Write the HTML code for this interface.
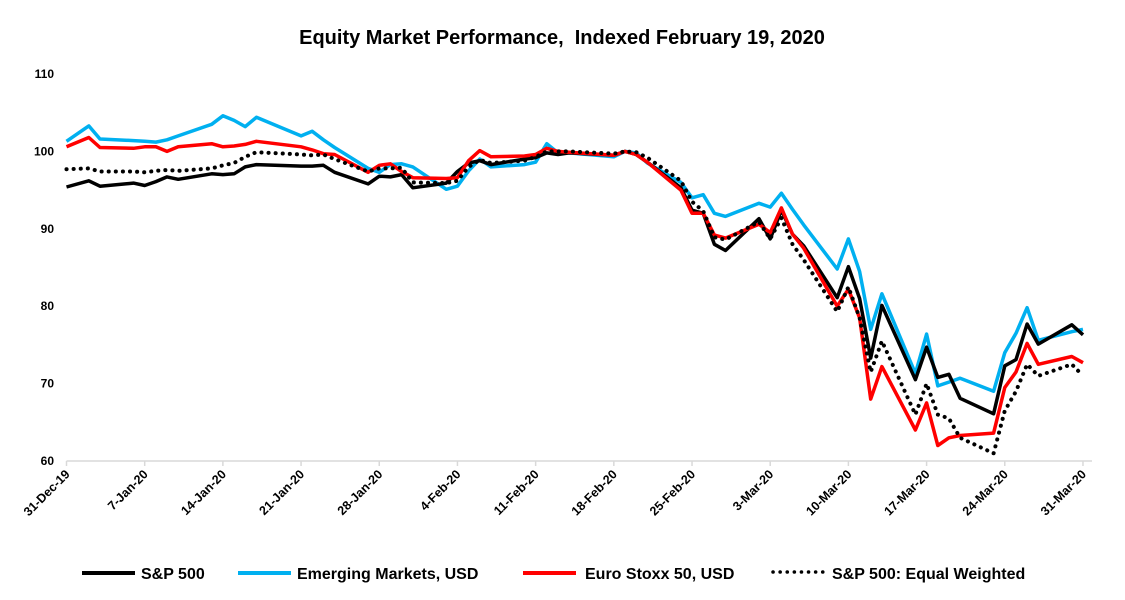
<!DOCTYPE html>
<html><head><meta charset="utf-8"><style>
html,body{margin:0;padding:0;background:#fff;}
svg{display:block;font-family:"Liberation Sans",sans-serif;}
</style></head><body>
<svg id="chart" width="1125" height="600">
<text x="562" y="44" text-anchor="middle" font-size="20" font-weight="bold" fill="#000">Equity Market Performance, &#160;Indexed February 19, 2020</text>
<g id="axes"></g><g id="series"></g>
<g font-size="16" font-weight="bold">
<g><line x1="82" y1="573" x2="135" y2="573" stroke="#000" stroke-width="4"/><text x="141" y="579">S&amp;P 500</text></g>
<g><line x1="238" y1="573" x2="291" y2="573" stroke="#00b0f0" stroke-width="4"/><text x="297" y="579">Emerging Markets, USD</text></g>
<g><line x1="523" y1="573" x2="576" y2="573" stroke="#ff0000" stroke-width="4"/><text x="585" y="579">Euro Stoxx 50, USD</text></g>
<g><line x1="773" y1="572" x2="823" y2="572" stroke="#000" stroke-width="3.5" stroke-dasharray="0.1,7" stroke-linecap="round"/><text x="832" y="579">S&amp;P 500: Equal Weighted</text></g>
</g>
</svg>
<script>
const dates=["2019-12-31","2020-01-02","2020-01-03","2020-01-06","2020-01-07","2020-01-08","2020-01-09","2020-01-10","2020-01-13","2020-01-14","2020-01-15","2020-01-16","2020-01-17","2020-01-21","2020-01-22","2020-01-23","2020-01-24","2020-01-27","2020-01-28","2020-01-29","2020-01-30","2020-01-31","2020-02-03","2020-02-04","2020-02-05","2020-02-06","2020-02-07","2020-02-10","2020-02-11","2020-02-12","2020-02-13","2020-02-14","2020-02-18","2020-02-19","2020-02-20","2020-02-21","2020-02-24","2020-02-25","2020-02-26","2020-02-27","2020-02-28","2020-03-02","2020-03-03","2020-03-04","2020-03-05","2020-03-06","2020-03-09","2020-03-10","2020-03-11","2020-03-12","2020-03-13","2020-03-16","2020-03-17","2020-03-18","2020-03-19","2020-03-20","2020-03-23","2020-03-24","2020-03-25","2020-03-26","2020-03-27","2020-03-30","2020-03-31"];
const sp500=[95.4,96.2,95.5,95.9,95.6,96.1,96.7,96.4,97.1,97.0,97.1,98.0,98.3,98.1,98.1,98.2,97.3,95.8,96.8,96.7,97.0,95.3,95.9,97.4,98.5,98.8,98.3,99.0,99.2,99.8,99.6,99.8,99.5,100,99.6,98.6,95.3,92.4,92.0,88.0,87.2,91.3,88.7,92.4,89.3,87.8,81.1,85.1,81.0,73.3,80.1,70.5,74.7,70.8,71.2,68.1,66.1,72.3,73.1,77.7,75.1,77.6,76.3];
const emerging=[101.3,103.3,101.6,101.4,101.3,101.2,101.5,102.0,103.5,104.6,104.0,103.2,104.4,102.0,102.6,101.5,100.5,97.8,97.3,98.3,98.4,98.0,95.1,95.5,97.5,99.0,98.0,98.3,98.6,101.0,99.8,99.8,99.3,100,99.8,98.5,96.0,94.0,94.4,92.0,91.6,93.3,92.8,94.6,92.5,90.5,84.8,88.7,84.5,77.0,81.6,71.3,76.4,69.7,70.2,70.7,69.0,74.0,76.5,79.8,75.6,76.7,77.0];
const eurostoxx=[100.6,101.8,100.5,100.4,100.6,100.6,100.0,100.6,101.0,100.6,100.7,100.9,101.3,100.6,100.2,99.7,99.6,97.3,98.2,98.4,97.4,96.6,96.5,96.6,98.8,100.1,99.3,99.4,99.6,100.4,100.0,99.9,99.5,100,99.6,98.6,95.0,92.0,92.0,89.2,88.8,90.6,89.5,92.7,89.3,87.5,80.0,82.2,78.5,68.0,72.2,64.0,67.5,62.0,63.0,63.3,63.6,69.5,71.5,75.2,72.5,73.5,72.7];
const equalWeighted=[97.7,97.8,97.4,97.4,97.3,97.5,97.6,97.5,97.8,98.2,98.5,99.3,99.9,99.6,99.5,99.6,99.0,97.4,97.8,97.8,97.9,96.0,95.9,96.2,98.0,98.9,98.5,98.8,99.3,100,100,100,99.7,100,99.9,99.2,96.2,93.5,92.3,88.9,88.6,90.9,88.7,91.4,88.0,86.0,79.3,82.5,78.5,71.5,75.5,66.0,70.0,66.0,65.5,63.0,61.0,66.5,69.0,72.5,71.0,72.5,71.0];
const yTicks=[60,70,80,90,100,110];
const xTickLabels=["31-Dec-19","7-Jan-20","14-Jan-20","21-Jan-20","28-Jan-20","4-Feb-20","11-Feb-20","18-Feb-20","25-Feb-20","3-Mar-20","10-Mar-20","17-Mar-20","24-Mar-20","31-Mar-20"];

const NS="http://www.w3.org/2000/svg";
const x0=66.5,pxPerDay=11.17,yBase=461,pxPerUnit=7.74;
const t0=Date.UTC(2019,11,31);
function dayOf(s){const p=s.split('-');return (Date.UTC(+p[0],+p[1]-1,+p[2])-t0)/86400000;}
function xScale(d){return x0+d*pxPerDay;}
function yScale(v){return yBase-(v-60)*pxPerUnit;}
function mk(tag,attrs,parent){const e=document.createElementNS(NS,tag);for(const k in attrs)e.setAttribute(k,attrs[k]);parent.appendChild(e);return e;}
const axes=document.getElementById('axes');
const base=mk('line',{x1:x0,y1:yBase,x2:1092,y2:yBase,stroke:'#d9d9d9','stroke-width':1.5},axes);


yTicks.forEach(v=>{
  const t=mk('text',{x:54,y:yScale(v)+4,'text-anchor':'end','font-size':12,'font-weight':'bold'},axes);
  t.textContent=v;
  
  
});
xTickLabels.forEach((lab,i)=>{
  const x=xScale(i*7);
  const tk=mk('line',{x1:x,y1:yBase,x2:x,y2:yBase+5,stroke:'#d9d9d9','stroke-width':1.5},axes);
  
  
  const t=mk('text',{x:x+4,y:yBase+14,'text-anchor':'end','font-size':12.5,'font-weight':'bold',transform:`rotate(-45 ${x+4} ${yBase+14})`},axes);
  t.textContent=lab;
  
  
});
const sg=document.getElementById('series');
function draw(vals,color,name,dash,w){
  const pts=vals.map((v,i)=>xScale(dayOf(dates[i])).toFixed(1)+','+yScale(v).toFixed(1)).join(' ');
  const a={points:pts,fill:'none',stroke:color,'stroke-width':w,'stroke-linejoin':'round'};
  if(dash){a['stroke-dasharray']=dash;a['stroke-linecap']='round';}
  const p=mk('polyline',a,sg);
  
  
}
draw(emerging,'#00b0f0','emerging-markets-line',null,3.5);
draw(sp500,'#000','sp500-line',null,3.5);
draw(eurostoxx,'#ff0000','euro-stoxx-line',null,3.5);
draw(equalWeighted,'#000','sp500-equal-weighted-line','0.1,7',4);
</script>
</body></html>
